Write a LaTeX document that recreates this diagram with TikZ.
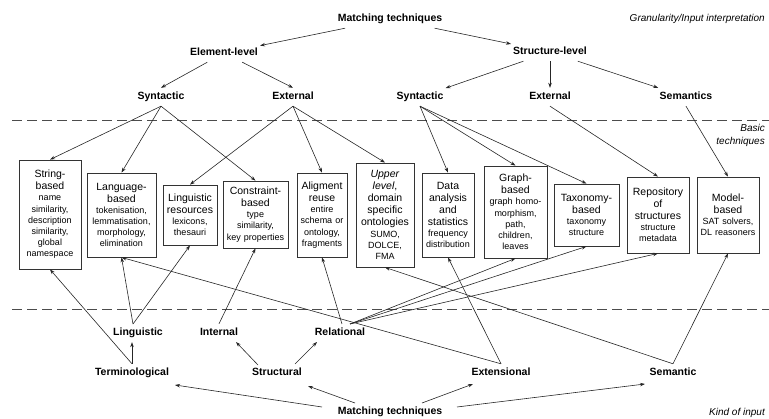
\documentclass[tikz,border=0pt]{standalone}
\usepackage{fontspec}
\setmainfont{Liberation Sans}
\usetikzlibrary{arrows.meta}
\hyphenpenalty=10000
\newcommand\boxtitle[1]{{\fontsize{10.5}{12}\selectfont #1\par}}
\begin{document}
\begin{tikzpicture}[x=1pt,y=-1pt,
  lbl/.style={font=\bfseries\fontsize{10.5}{12}\selectfont, text height=8pt, text depth=2pt, inner xsep=2pt, inner ysep=4pt},
  note/.style={font=\itshape\fontsize{10}{13.5}\selectfont, align=right, inner sep=0pt},
  tech/.style={draw=black!80, line width=0.8pt, align=center, inner xsep=0pt, inner ysep=0pt, font=\fontsize{9}{11.2}\selectfont},
  link/.style={draw=black!85, line width=0.6pt, -{Stealth[length=5pt,width=3.5pt]}},
  sep/.style={draw=black!70, line width=0.8pt, dash pattern=on 10pt off 5pt},
]
\useasboundingbox (0,0) rectangle (769,419);

% layer separators
\coordinate (sepAl) at (12,120);  \coordinate (sepAr) at (769,120);
\coordinate (sepBl) at (12,309);  \coordinate (sepBr) at (769,309);
\draw[sep] (sepAl) -- (sepAr);
\draw[sep] (sepBl) -- (sepBr);

% side notes
\node[note, anchor=base east] (nGran) at (765,22) {Granularity/Input interpretation};
\node[note, anchor=north east] (nBasic) at (765,124) {Basic\\techniques};
\node[note, anchor=base east] (nKind) at (765,416) {Kind of input};

% upper classification
\node[lbl] (mtT) at (390,19) {Matching techniques};
\node[lbl] (elem) at (224,53) {Element-level};
\node[lbl] (struct) at (550,52) {Structure-level};
\node[lbl] (synL) at (161,97) {Syntactic};
\node[lbl] (extL) at (293,97) {External};
\node[lbl] (synR) at (420,97) {Syntactic};
\node[lbl] (extR) at (550,97) {External};
\node[lbl] (sem) at (686,97) {Semantics};

% basic techniques
\node[tech, text width=62pt, minimum height=109pt] (b1) at (50,214.5)
  {\boxtitle{String-\\based}name\\similarity,\\description\\similarity,\\global\\namespace};
\node[tech, text width=69pt, minimum height=84pt] (b2) at (121.5,215)
  {\boxtitle{Language-\\based}tokenisation,\\lemmatisation,\\morphology,\\elimination};
\node[tech, text width=54pt, minimum height=60pt] (b3) at (190,215)
  {\boxtitle{Linguistic\\resources}lexicons,\\thesauri};
\node[tech, text width=65pt, minimum height=67pt] (b4) at (255.5,214.5)
  {\boxtitle{Constraint-\\based}type\\similarity,\\key properties};
\node[tech, text width=50pt, minimum height=84pt] (b5) at (322,215)
  {\boxtitle{Aligment\\reuse}entire\\schema or\\ontology,\\fragments};
\node[tech, text width=58pt, minimum height=104pt] (b6) at (385,215)
  {\boxtitle{\textit{Upper}\\\textit{level},\\domain\\specific\\ontologies}SUMO,\\DOLCE,\\FMA};
\node[tech, text width=52pt, minimum height=84pt] (b7) at (448,215)
  {\boxtitle{Data\\analysis\\and\\statistics}frequency\\distribution};
\node[tech, text width=63pt, minimum height=92pt] (b8) at (515.5,212)
  {\boxtitle{Graph-\\based}graph homo-\\morphism,\\path,\\children,\\leaves};
\node[tech, text width=65pt, minimum height=62pt] (b9) at (586.5,215)
  {\boxtitle{Taxonomy-\\based}taxonomy\\structure};
\node[tech, text width=62pt, minimum height=76pt] (b10) at (658,215)
  {\boxtitle{Repository\\of\\structures}structure\\metadata};
\node[tech, text width=62pt, minimum height=76pt] (b11) at (728,215)
  {\boxtitle{Model-\\based}SAT solvers,\\DL reasoners};

% lower classification
\node[lbl] (ling) at (138,333) {Linguistic};
\node[lbl] (intl) at (219,333) {Internal};
\node[lbl] (rel) at (340,333) {Relational};
\node[lbl] (term) at (132,373) {Terminological};
\node[lbl] (structl) at (277,373) {Structural};
\node[lbl] (ext) at (501,373) {Extensional};
\node[lbl] (seml) at (673,373) {Semantic};
\node[lbl] (mtB) at (390,412) {Matching techniques};

% upper tree
\draw[link] (mtT) -- (elem);
\draw[link] (mtT) -- (struct);
\draw[link] (elem) -- (synL.north);
\draw[link] (elem) -- (extL.north);
\draw[link] (struct) -- (synR);
\draw[link] (struct) -- (extR);
\draw[link] (struct) -- (sem);

% upper classification to techniques
\draw[link] (synL.south) -- (b1.north);
\draw[link] (synL.south) -- (b2.north);
\draw[link] (synL.south) -- (b4.north);
\draw[link] (extL.south) -- (b3.north);
\draw[link] (extL.south) -- (b5.north);
\draw[link] (extL.south) -- (b6.north);
\draw[link] (synR.south) -- (b7.north);
\draw[link] (synR.south) -- (b8.north);
\draw[link] (synR.south) -- (b9.north);
\draw[link] (extR.south) -- (b10.north);
\draw[link] (sem.south) -- (b11.north);

% lower tree
\draw[link] ([shift={(-68,-5)}]mtB.center) -- ([shift={(43,12)}]term.center);
\draw[link] ([shift={(-35,-9)}]mtB.center) -- ([shift={(31,13)}]structl.center);
\draw[link] ([shift={(32,-9)}]mtB.center) -- ([shift={(-28,11)}]ext.center);
\draw[link] ([shift={(67,-5)}]mtB.center) -- ([shift={(-28,11)}]seml.center);
\draw[link] (term.north) -- (term.north |- ling.south);
\draw[link] ([shift={(-19,-8)}]structl.center) -- ([shift={(17,9)}]intl.center);
\draw[link] ([shift={(18,-9)}]structl.center) -- ([shift={(-23,9)}]rel.center);

% lower classification to techniques
\draw[link] (term.north) -- (b1.south);
\draw[link] ([shift={(-5,-9)}]ling.center) -- (b2.south);
\draw[link] ([shift={(-5,-9)}]ling.center) -- (b3.south);
\draw[link] (intl.north) -- (b4.south);
\draw[link] ([shift={(2,-9)}]rel.center) -- (b5.south);
\draw[link] ([shift={(10,-9)}]rel.center) -- (b8.south);
\draw[link] ([shift={(10,-9)}]rel.center) -- (b9.south);
\draw[link] ([shift={(10,-9)}]rel.center) -- (b10.south);
\draw[link] (ext.north) -- (b2.south);
\draw[link] (ext.north) -- (b7.south);
\draw[link] (seml.north) -- (b6.south);
\draw[link] (seml.north) -- (b11.south);
\end{tikzpicture}
\end{document}
